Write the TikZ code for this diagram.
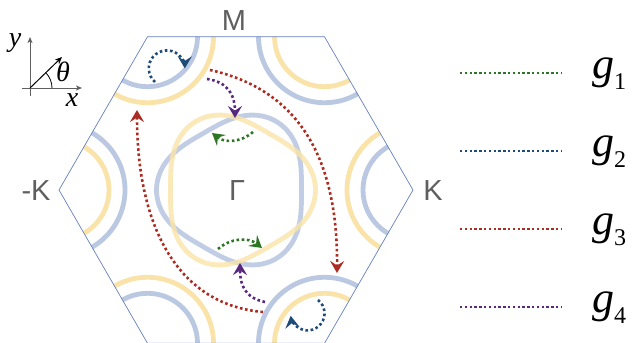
\documentclass[tikz,border=0pt]{standalone}
\usepackage{fontspec}
\setmainfont{Liberation Serif}
\newfontfamily\ptfont{Liberation Sans}
\usetikzlibrary{arrows.meta,calc}
\definecolor{hexblue}{RGB}{100,128,188}
\definecolor{bandblue}{RGB}{186,200,225}
\definecolor{bandyellow}{RGB}{250,227,168}
\definecolor{labelgray}{RGB}{95,95,95}
\definecolor{gonegreen}{RGB}{45,118,35}
\definecolor{gtwoblue}{RGB}{30,76,122}
\definecolor{gthreered}{RGB}{172,44,34}
\definecolor{gfourpurple}{RGB}{88,40,128}

\begin{document}
\begin{tikzpicture}[x=1pt, y=1pt,
  hexline/.style={draw=hexblue, line width=0.7pt},
  band/.style={line width=4.8pt},
  hop/.style={line width=2.6pt, dash pattern=on 2.6pt off 2.6pt, -{Stealth[length=12pt,width=14pt,inset=4.5pt]}},
  legline/.style={line width=2.4pt, dash pattern=on 2.4pt off 2.4pt},
  ptlbl/.style={font=\ptfont\fontsize{29}{29}\selectfont, text=labelgray, inner sep=0pt},
  axlbl/.style={font=\fontsize{28}{28}\selectfont\itshape, inner sep=0pt},
  axarrow/.style={draw=labelgray, line width=0.8pt, -{Stealth[length=6pt,width=5pt,inset=1.5pt]}}
]
\useasboundingbox (0,0) rectangle (633,-343);

% Brillouin zone
\coordinate (O) at (236,-190);
\foreach \a [count=\i from 0] in {0,60,...,300}
  \coordinate (v\i) at ($(O)+(\a:177)$);

% Valley pockets at the corners
\begin{scope}
  \clip (v0) -- (v1) -- (v2) -- (v3) -- (v4) -- (v5) -- cycle;
  \foreach \i in {0,2,4} {
    \draw[band, bandblue] (v\i) circle[radius=50];
    \draw[band, bandyellow] (v\i) circle[radius=66];
  }
  \foreach \i in {1,3,5} {
    \draw[band, bandyellow] (v\i) circle[radius=50];
    \draw[band, bandblue] (v\i) circle[radius=66];
  }
\end{scope}

% Gamma pockets (trigonally warped)
\begin{scope}[shift={(O)}]
  \draw[band, bandblue, opacity=0.9] plot[domain=0:355, samples=72, smooth cycle] (\x:{72.5-7*cos(3*\x)});
  \draw[band, bandyellow, opacity=0.8] plot[domain=0:355, samples=72, smooth cycle] (\x:{72.5+7*cos(3*\x)});
\end{scope}

\draw[hexline] (v0) -- (v1) -- (v2) -- (v3) -- (v4) -- (v5) -- cycle;

% High-symmetry points
\node[ptlbl] (M) at (234,-21) {M};
\node[ptlbl] (K) at (433,-191) {K};
\node[ptlbl] (mK) at (36,-191) {-K};
\node[ptlbl] (G) at (237,-191) {Γ};

% Scattering processes
\coordinate (g1a) at (253,-132); \coordinate (g1b) at (212,-133);
\coordinate (g1c) at (218,-249); \coordinate (g1d) at (262,-248);
\draw[hop, gonegreen] (g1a) to[bend left=40] (g1b);
\draw[hop, gonegreen] (g1c) to[bend left=40] (g1d);

\coordinate (g2a) at (155,-82); \coordinate (g2b) at (318,-300);
\draw[hop, gtwoblue] (g2a) arc[start angle=229, end angle=0, radius=18];
\draw[hop, gtwoblue] (g2b) arc[start angle=52, end angle=-172, radius=17];

\coordinate (g3a) at (210,-70); \coordinate (g3b) at (337,-273);
\coordinate (g3c) at (263,-312); \coordinate (g3d) at (137,-110);
\draw[hop, gthreered] (g3a) .. controls (300,-90) and (338,-160) .. (g3b);
\draw[hop, gthreered] (g3c) .. controls (180,-305) and (137,-230) .. (g3d);

\coordinate (g4a) at (207,-79); \coordinate (g4b) at (235,-118);
\coordinate (g4c) at (265,-302); \coordinate (g4d) at (240,-263);
\draw[hop, gfourpurple] (g4a) .. controls (228,-82) and (235,-95) .. (g4b);
\draw[hop, gfourpurple] (g4c) .. controls (245,-298) and (240,-285) .. (g4d);

% Axes
\coordinate (ax) at (30,-88);
\coordinate (axx) at (82,-88);
\coordinate (axy) at (30,-37);
\coordinate (axd) at (62,-57);
\draw[axarrow] (22,-88) -- (axx);
\draw[axarrow] (30,-96) -- (axy);
\draw[line width=1pt, -{Stealth[length=7pt,width=6pt,inset=2pt]}] (ax) -- (axd);
\draw[line width=0.8pt] ($(ax)+(22,0)$) arc[start angle=0, end angle=45, radius=22];
\node[axlbl] (xl) at (72,-100) {x};
\node[axlbl] (yl) at (15,-43) {y};
\node[axlbl] (tl) at (63,-72) {θ};

% Legend
\foreach \n/\y/\c in {1/73/gonegreen, 2/151/gtwoblue, 3/229/gthreered, 4/307/gfourpurple} {
  \coordinate (leg\n a) at (460,-\y);
  \coordinate (leg\n b) at (562,-\y);
  \draw[legline, \c] (leg\n a) -- (leg\n b);
  \node[anchor=base west, inner sep=0pt] (g\n) at (592,-\y-5)
    {{\fontsize{44}{44}\selectfont\itshape g}\raisebox{-11pt}{\fontsize{24}{24}\selectfont \n}};
}
\end{tikzpicture}
\end{document}
